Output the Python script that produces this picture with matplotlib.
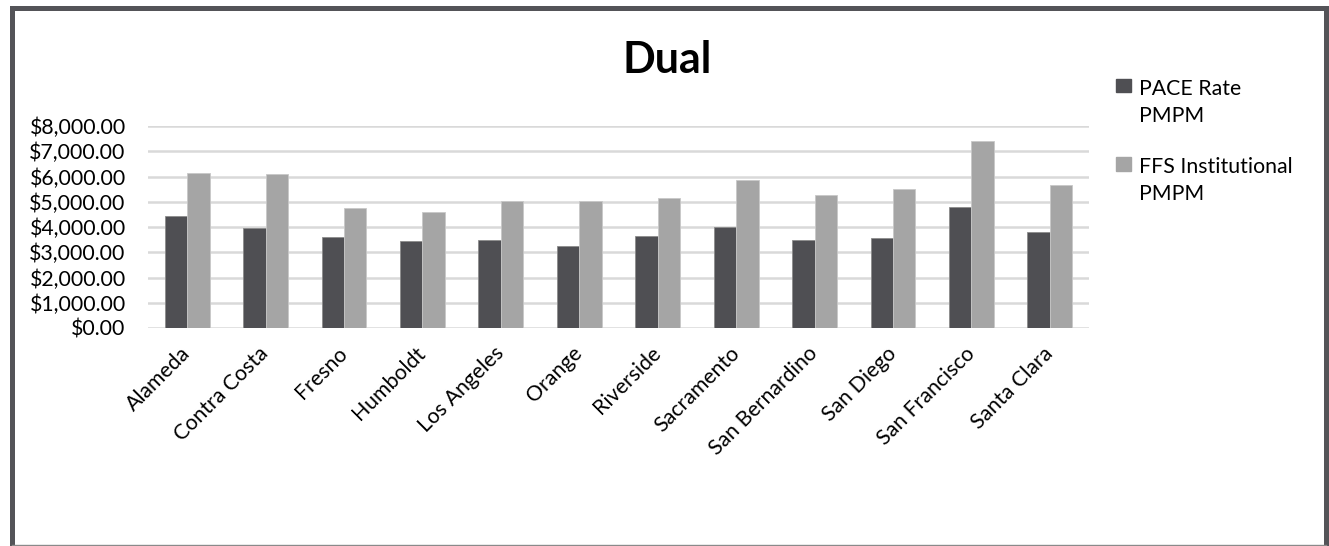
import numpy as np
import matplotlib.pyplot as plt
from matplotlib.patches import Rectangle, Patch
from matplotlib.ticker import FuncFormatter

counties = ["Alameda", "Contra Costa", "Fresno", "Humboldt", "Los Angeles", "Orange",
            "Riverside", "Sacramento", "San Bernardino", "San Diego", "San Francisco",
            "Santa Clara"]
pace_rate = [4430, 3960, 3600, 3430, 3490, 3230, 3650, 3990, 3470, 3570, 4780, 3820]
ffs_inst = [6120, 6100, 4750, 4590, 5010, 5030, 5150, 5850, 5260, 5490, 7420, 5650]
series_names = ["PACE Rate\nPMPM", "FFS Institutional\nPMPM"]
dark = "#4f4f53"
light = "#a5a5a5"

plt.rcParams['font.family'] = ['Lato', 'DejaVu Sans']

fig = plt.figure(figsize=(13.29, 5.46), dpi=100)
ax = fig.add_axes([148/1329, 1-328/546, (1089-148)/1329, (328-126)/546])

x = np.arange(len(counties))
w = 1/3.5
ax.bar(x - w/2, pace_rate, w, color=dark, edgecolor="#8c8c8c", linewidth=0.6, zorder=3)
ax.bar(x + w/2, ffs_inst, w, color=light, edgecolor="#c8c8c8", linewidth=0.6, zorder=3)

ax.set_xlim(-0.5, len(counties)-0.5)
ax.set_ylim(0, 8000)
ax.set_yticks(np.arange(0, 8001, 1000))
ax.yaxis.set_major_formatter(FuncFormatter(lambda v, p: "${:,.2f}".format(v)))
ax.grid(axis='y', color="#d9d9d9", linewidth=1.8, zorder=0)
for s in ax.spines.values():
    s.set_visible(False)
ax.tick_params(axis='both', length=0, labelsize=15.3, colors="black")
ax.tick_params(axis='y', pad=16)
ax.set_xticks(x)
ax.set_xticklabels(counties, rotation=45, ha='right', va='center', rotation_mode='anchor')
ax.tick_params(axis='x', pad=16)

fig.text(0.502, 1-73/546, "Dual", fontsize=31, fontweight='bold', ha='center', va='baseline')

handles = [Patch(color=dark), Patch(color=light)]
leg = fig.legend(handles, series_names, loc='upper left', bbox_to_anchor=(1105/1329, 1-68/546),
                 frameon=False, fontsize=15.3, handlelength=0.7, handleheight=0.62,
                 handletextpad=0.4, labelspacing=1.47, borderpad=0)
for t in leg.get_texts():
    t.set_linespacing(1.45)
for col in leg._legend_handle_box.get_children():
    for hp in col.get_children():
        hp.align = 'top'

fig.patches.append(Rectangle((11.5/1329, -3/546), (1326-11.5)/1329, (546+3-7.5)/546,
                             transform=fig.transFigure, fill=False, edgecolor="#545458",
                             linewidth=3.6, clip_on=False))
fig.add_artist(plt.Line2D([11.5/1329, 1326/1329], [1.5/546, 1.5/546], transform=fig.transFigure,
                          color="#8a8a8a", linewidth=1.0))

fig.savefig("out.png", dpi=100)
